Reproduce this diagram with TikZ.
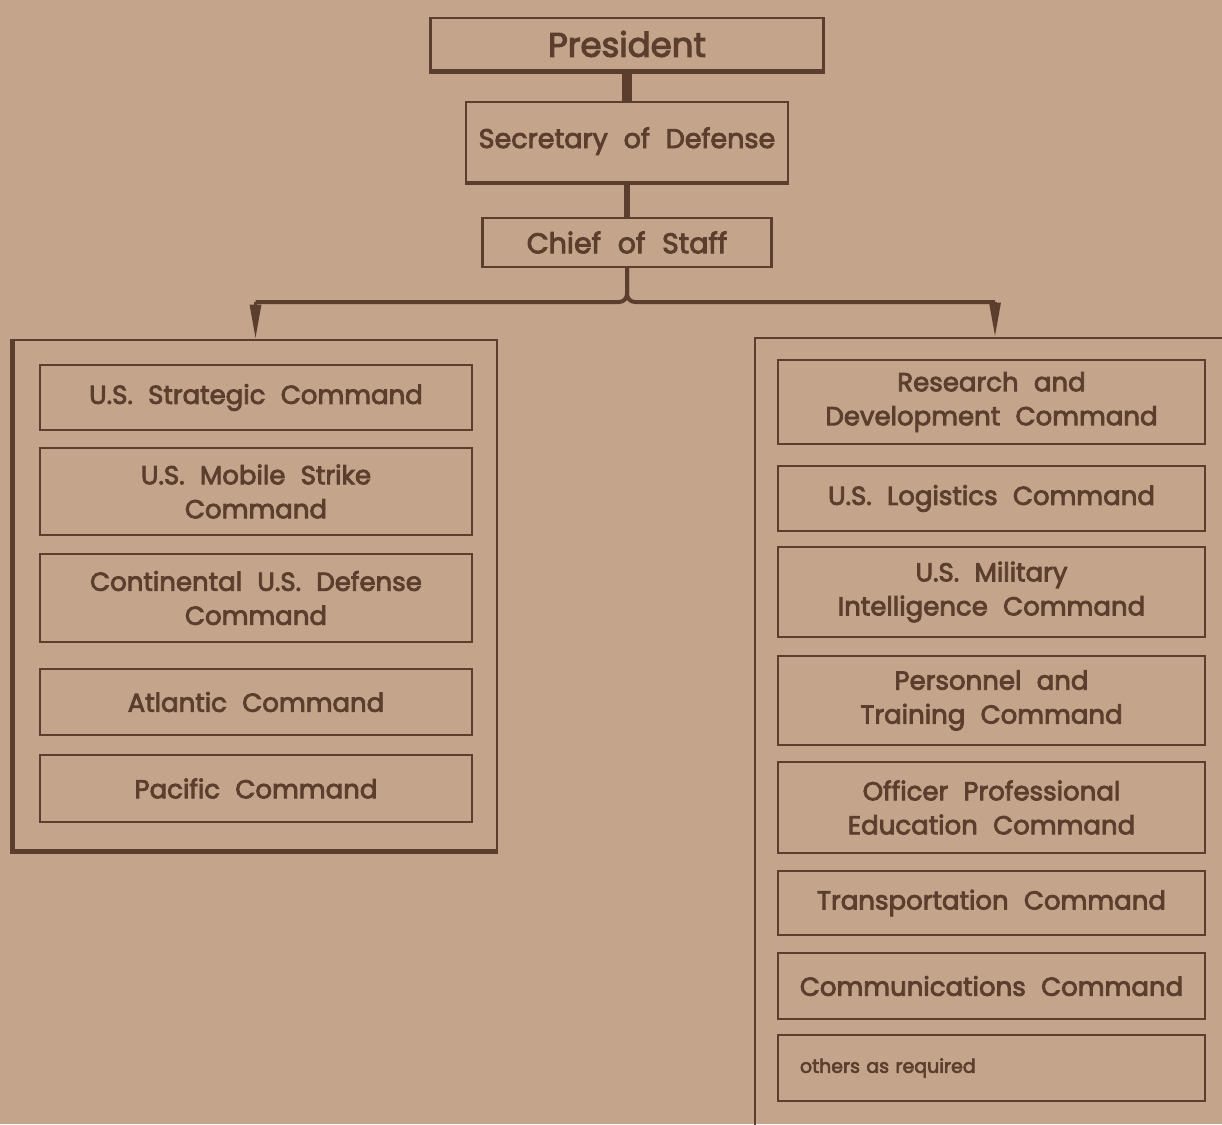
\documentclass[tikz,border=0pt]{standalone}
\usepackage{fontspec}
\setmainfont{Poppins}[WordSpace=2.2, FakeBold=3.2]
\usetikzlibrary{arrows.meta}
\definecolor{paper}{RGB}{196,164,138}
\definecolor{ink}{RGB}{92,62,46}
\tikzset{
	unitbox/.style={draw=ink, line width=2.4pt, text=ink, inner sep=0pt, align=center, font=\fontsize{26}{34}\selectfont},
	leftunit/.style={unitbox, minimum width=432pt},
	rightunit/.style={unitbox, minimum width=427pt},
	drop/.style={draw=ink, line width=3pt, -{Triangle[length=34pt,width=11pt]}},
}
\begin{document}
\begin{tikzpicture}[x=1pt,y=-1pt]
	\useasboundingbox (0,0) rectangle (1222,1124);
	\clip (0,0) rectangle (1222,1124);
	\fill[paper] (0,0) rectangle (1222,1124);
	
	% top of the chain
	\node[unitbox, minimum width=393pt, minimum height=52pt, font=\fontsize{34}{34}\selectfont] (pres) at (627,44) {President};
	\draw[ink, line width=5pt] (pres.south west) -- (pres.south east);
	\node[unitbox, minimum width=322pt, text height=46pt, text depth=34pt, anchor=base, font=\fontsize{27}{34}\selectfont] (secdef) at (627,148) {Secretary of Defense};
	\draw[ink, line width=4.5pt] (secdef.south west) -- (secdef.south east);
	\node[unitbox, minimum width=289pt, minimum height=49pt, font=\fontsize{28.5}{34}\selectfont] (chief) at (627,242.5) {Chief of Staff};
	
	% the two groups
	\node[draw=ink, line width=2.6pt, minimum width=483pt, minimum height=510pt] (lbox) at (255.5,595) {};
	\draw[ink, line width=5pt] (lbox.north west) -- (lbox.south west) -- (lbox.south east);
	\node[draw=ink, line width=2.6pt, minimum width=480pt, minimum height=802pt] (rbox) at (995,739) {};
	
	%Straight Lines
	\draw[ink, line width=10pt] (pres.south) -- (secdef.north);
	\draw[ink, line width=6pt] (secdef.south) -- (chief.north);
	\coordinate (jn) at (627,302);
	\coordinate (lfoot) at (lbox.north |- jn);
	\coordinate (rfoot) at (rbox.north |- jn);
	\draw[ink, line width=4pt, rounded corners=8pt] (chief.south) |- (lfoot);
	\draw[ink, line width=4pt, rounded corners=8pt] (chief.south) |- (rfoot);
	\draw[drop] (lfoot) -- (lbox.north);
	\draw[drop] (rfoot) -- (rbox.north);
	
	% Text Node
	\node[leftunit, minimum height=65pt] (strat) at (256,397.5) {U.S. Strategic Command};
	% Text Node
	\node[leftunit, minimum height=87pt] (mobile) at (256,491.5) {U.S. Mobile Strike\\Command};
	% Text Node
	\node[leftunit, minimum height=88pt] (conus) at (256,598) {Continental U.S. Defense\\Command};
	% Text Node
	\node[leftunit, minimum height=66pt] (atlantic) at (256,702) {Atlantic Command};
	% Text Node
	\node[leftunit, minimum height=67pt] (pacific) at (256,788.5) {Pacific Command};
	
	% Text Node
	\node[rightunit, minimum height=84pt] (research) at (991.5,402) {Research and\\Development Command};
	% Text Node
	\node[rightunit, minimum height=65pt] (logistics) at (991.5,498.5) {U.S. Logistics Command};
	% Text Node
	\node[rightunit, minimum height=90pt] (intel) at (991.5,592) {U.S. Military\\Intelligence Command};
	% Text Node
	\node[rightunit, minimum height=89pt] (personnel) at (991.5,700.5) {Personnel and\\Training Command};
	% Text Node
	\node[rightunit, minimum height=91pt] (officer) at (991.5,807.5) {Officer Professional\\Education Command};
	% Text Node
	\node[rightunit, minimum height=64pt] (transport) at (991.5,903) {Transportation Command};
	% Text Node
	\node[rightunit, minimum height=66pt] (comms) at (991.5,986) {Communications Command};
	% Text Node
	\node[unitbox, minimum height=66pt, text width=383pt, inner xsep=22pt, align=left, font=\fontsize{19}{22}\selectfont] (others) at (991.5,1068) {others as required};
	
\end{tikzpicture}
\end{document}
